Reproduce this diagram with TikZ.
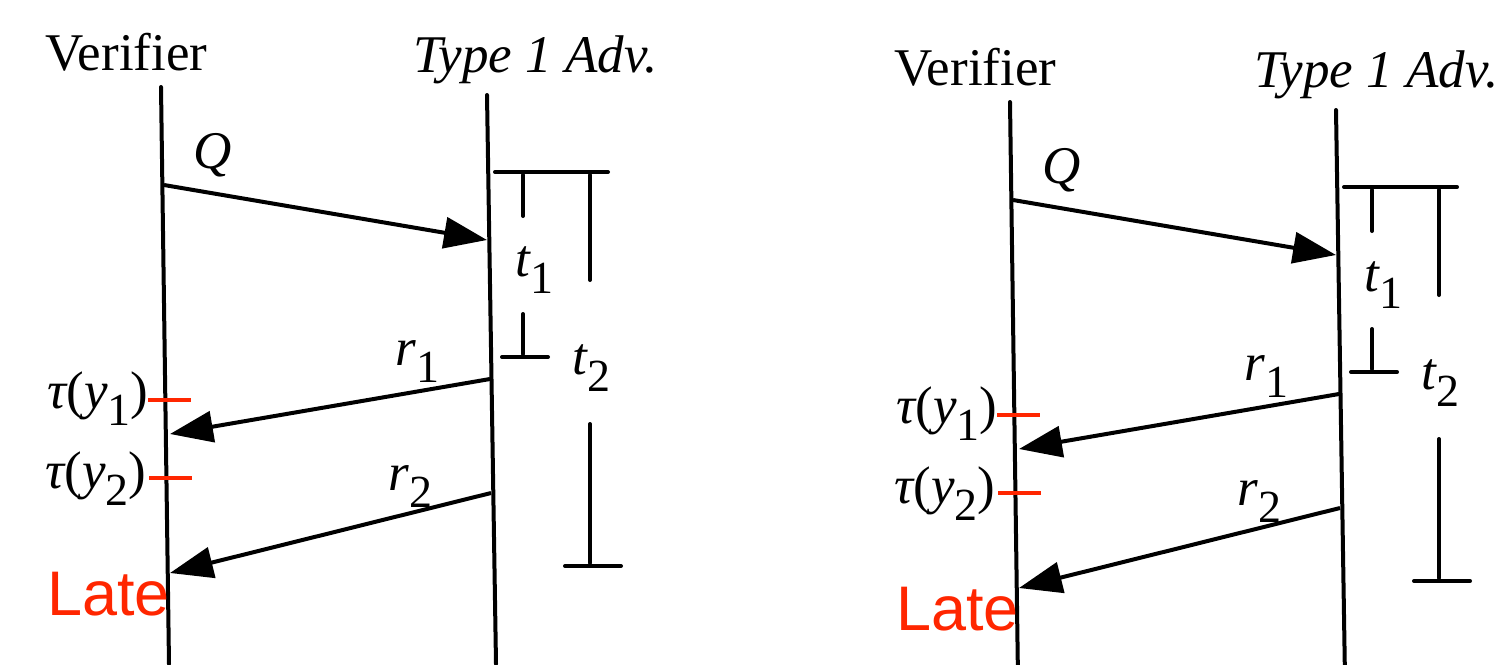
\documentclass[tikz,border=0pt]{standalone}
\usepackage{fontspec}
\setmainfont{Liberation Serif}
\newfontfamily\latefont{Liberation Sans}
\usetikzlibrary{arrows.meta}
\definecolor{lred}{RGB}{255,38,0}
\newcommand\mainsz{\fontsize{26.5}{31}\selectfont}
\newcommand\lowsub[1]{\raisebox{-8.5pt}{\upshape\fontsize{23}{23}\selectfont #1}}
\tikzset{
  life/.style={line width=2pt, line cap=round},
  msg/.style={line width=2pt, -{Triangle[length=21.5pt,width=15.5pt]}},
  brk/.style={line width=2pt, line cap=round},
  redtick/.style={line width=2pt, draw=lred},
  lbl/.style={inner sep=0pt, anchor=base west, font=\mainsz},
  latelbl/.style={inner sep=0pt, anchor=base west, text=lred, font=\latefont\fontsize{31.5}{36}\selectfont},
}
% #1 = name prefix, #2 = x position of the adversary title
\newcommand\drawpanel[2]{%
  \node[lbl] (#1ver) at (45,70) {Verifier};
  \node[lbl] (#1adv) at (#2,72) {\itshape Type 1 Adv.};
  % lifelines
  \coordinate (#1vt) at (161,87);
  \coordinate (#1vb) at (169,664);
  \coordinate (#1at) at (487,95);
  \coordinate (#1ab) at (496,664);
  \draw[life] (#1vt) -- (#1vb);
  \draw[life] (#1at) -- (#1ab);
  % Q message
  \coordinate (#1qs) at (164,185);
  \coordinate (#1qe) at (487,240);
  \draw[msg] (#1qs) -- (#1qe);
  \node[lbl] (#1q) at (193,168) {\itshape Q};
  % brackets
  \coordinate (#1b1) at (495,172);
  \coordinate (#1b2) at (608,172);
  \draw[brk] (#1b1) -- (#1b2);
  \coordinate (#1ta1) at (523,175);
  \coordinate (#1ta2) at (523,216);
  \coordinate (#1ta3) at (523,314);
  \coordinate (#1ta4) at (523,354);
  \draw[brk] (#1ta1) -- (#1ta2);
  \draw[brk] (#1ta3) -- (#1ta4);
  \coordinate (#1tb1) at (502,357);
  \coordinate (#1tb2) at (548,357);
  \draw[brk] (#1tb1) -- (#1tb2);
  \node[lbl] (#1t1) at (515,276) {\itshape t\lowsub{1}};
  \coordinate (#1tc1) at (590,175);
  \coordinate (#1tc2) at (590,280);
  \coordinate (#1tc3) at (590,424);
  \coordinate (#1tc4) at (590,563);
  \draw[brk] (#1tc1) -- (#1tc2);
  \draw[brk] (#1tc3) -- (#1tc4);
  \coordinate (#1td1) at (565,566);
  \coordinate (#1td2) at (621,566);
  \draw[brk] (#1td1) -- (#1td2);
  \node[lbl] (#1t2) at (572,374) {\itshape t\lowsub{2}};
  % responses
  \coordinate (#1r1s) at (490,379);
  \coordinate (#1r1e) at (170,434);
  \draw[msg] (#1r1s) -- (#1r1e);
  \node[lbl] (#1r1) at (395,365) {\itshape r\lowsub{1}};
  \coordinate (#1r2s) at (491,493);
  \coordinate (#1r2e) at (170,573);
  \draw[msg] (#1r2s) -- (#1r2e);
  \node[lbl] (#1r2) at (388,490) {\itshape r\lowsub{2}};
  % tau labels and red ticks
  \node[lbl] (#1tau1) at (47,408) {{\itshape τ}({\itshape y}\lowsub{1})};
  \coordinate (#1k1a) at (148,400);
  \coordinate (#1k1b) at (191,400);
  \draw[redtick] (#1k1a) -- (#1k1b);
  \node[lbl] (#1tau2) at (45,488) {{\itshape τ}({\itshape y}\lowsub{2})};
  \coordinate (#1k2a) at (149,478);
  \coordinate (#1k2b) at (192,478);
  \draw[redtick] (#1k2a) -- (#1k2b);
  \node[latelbl] (#1late) at (47,615) {Late};
}
\begin{document}
\begin{tikzpicture}[x=0.5pt,y=-0.5pt]
  \useasboundingbox (0,0) rectangle (1498,664);
  \drawpanel{L}{413}
  \begin{scope}[shift={(849,15)}]
    \drawpanel{R}{405}
  \end{scope}
\end{tikzpicture}
\end{document}
